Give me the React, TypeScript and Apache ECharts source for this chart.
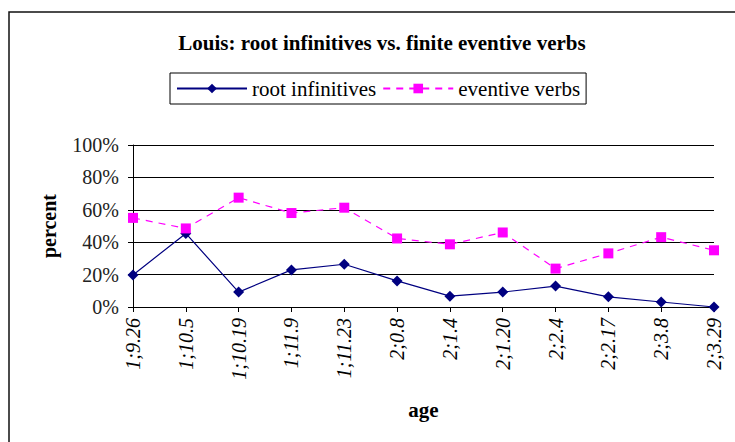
import React, { useEffect, useRef } from "react";
import * as echarts from "echarts";

const ages = ["1;9.26", "1;10.5", "1;10.19", "1;11.9", "1;11.23", "2;0.8", "2;1.4", "2;1.20", "2;2.4", "2;2.17", "2;3.8", "2;3.29"];
const rootInfinitives = [19.8, 45.4, 9.2, 22.9, 26.4, 16.1, 6.7, 9.2, 12.9, 6.3, 3.1, 0];
const eventiveVerbs = [55, 48.5, 67.5, 58, 61.3, 42.3, 38.7, 46, 23.7, 33.1, 43.1, 35];
const yTicks = [0, 20, 40, 60, 80, 100];

const FONT = "'Liberation Serif', 'Times New Roman', serif";

export default function App() {
  const ref = useRef<HTMLDivElement>(null);
  useEffect(() => {
    if (!ref.current) return;
    const chart = echarts.init(ref.current, null, { renderer: "svg" });
    chart.setOption({
      animation: false,
      backgroundColor: "#fff",
      textStyle: { fontFamily: FONT },
      title: {
        text: "Louis: root infinitives vs. finite eventive verbs",
        left: 377,
        textAlign: "center",
        top: 27,
        textStyle: { fontFamily: FONT, fontSize: 21, fontWeight: "bold", color: "#000" },
      },
      legend: {
        left: 170,
        top: 73,
        padding: [5, 6, 5, 6],
        borderColor: "#000",
        borderWidth: 1,
        itemWidth: 70,
        itemHeight: 12,
        itemGap: 6,
        textStyle: { fontFamily: FONT, fontSize: 21, fontWeight: "normal", color: "#000" },
        data: ["root infinitives", "eventive verbs"],
      },
      graphic: [
        {
          type: "rect",
          shape: { x: 9, y: 12, width: 800, height: 500 },
          style: { fill: "none", stroke: "#111", lineWidth: 1.5 },
          silent: true,
        },
      ],
      grid: { left: 133, right: 21, top: 145, bottom: 135, containLabel: false },
      xAxis: {
        type: "category",
        data: ages,
        boundaryGap: false,
        name: "age",
        nameLocation: "middle",
        nameGap: 92,
        nameTextStyle: { fontFamily: FONT, fontSize: 21, fontWeight: "bold", color: "#000" },
        axisLine: { lineStyle: { color: "#000", width: 1 } },
        axisTick: { show: true, length: 5, alignWithLabel: true, lineStyle: { color: "#000" } },
        axisLabel: {
          rotate: 90,
          margin: 11,
          fontFamily: FONT,
          fontSize: 20,
          fontStyle: "italic",
          fontWeight: "normal",
          color: "#000",
          interval: 0,
        },
      },
      yAxis: {
        type: "value",
        min: yTicks[0],
        max: yTicks[yTicks.length - 1],
        interval: 20,
        name: "percent",
        nameLocation: "middle",
        nameRotate: 90,
        nameGap: 74,
        nameTextStyle: { fontFamily: FONT, fontSize: 20, fontWeight: "bold", color: "#000" },
        axisLine: { show: true, lineStyle: { color: "#000", width: 1 } },
        axisTick: { show: true, length: 5, lineStyle: { color: "#000" } },
        axisLabel: {
          formatter: "{value}%",
          margin: 14,
          fontFamily: FONT,
          fontSize: 20,
          fontWeight: "normal",
          color: "#222",
        },
        splitLine: { show: true, lineStyle: { color: "#000", width: 1 } },
      },
      series: [
        {
          name: "root infinitives",
          type: "line",
          data: rootInfinitives,
          symbol: "diamond",
          symbolSize: 11,
          itemStyle: { color: "#000080" },
          lineStyle: { color: "#000080", width: 1.2 },
        },
        {
          name: "eventive verbs",
          type: "line",
          data: eventiveVerbs,
          symbol: "rect",
          symbolSize: 10,
          itemStyle: { color: "#FF00FF" },
          lineStyle: { color: "#FF00FF", width: 1.2, type: [7, 6] },
        },
      ],
    });
    return () => chart.dispose();
  }, []);
  return <div ref={ref} style={{ position: "absolute", left: 0, top: 0, width: 735, height: 442 }} />;
}
